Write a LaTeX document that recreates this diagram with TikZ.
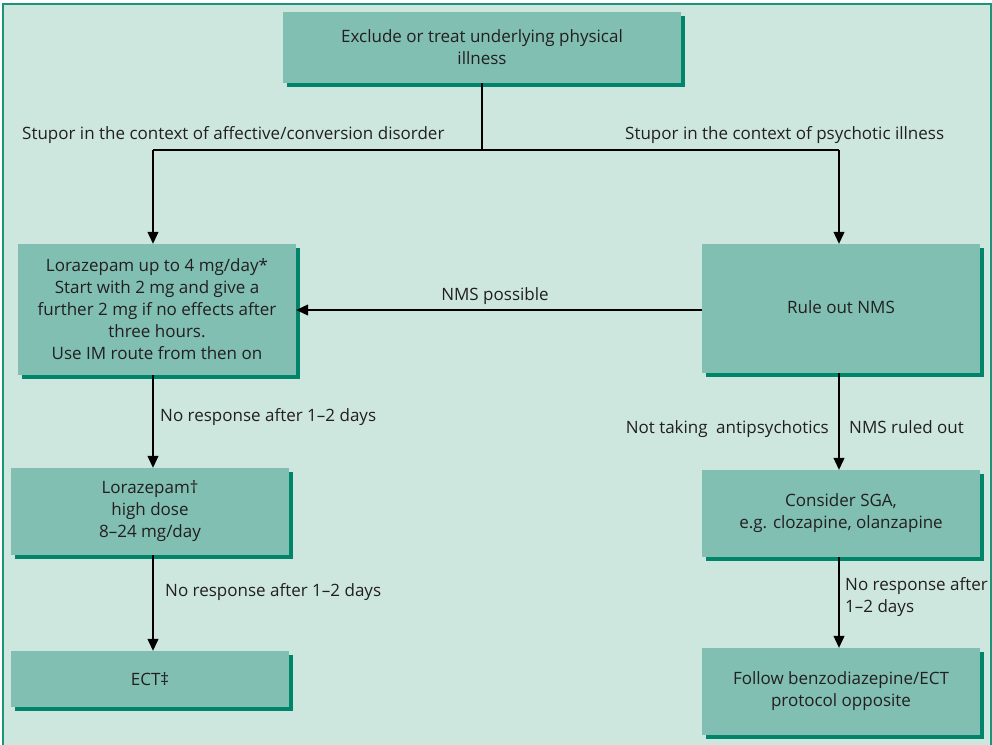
\documentclass[tikz,border=0pt]{standalone}
\usepackage{fontspec}
\setmainfont{Open Sans}
\usetikzlibrary{arrows.meta,shadows}
\definecolor{panel}{HTML}{CDE7DF}
\definecolor{frame}{HTML}{1B9479}
\definecolor{boxfill}{HTML}{80BFB2}
\definecolor{boxshade}{HTML}{00846A}
\definecolor{ink}{HTML}{231F20}
\begin{document}
\begin{tikzpicture}[x=1bp,y=-1bp,
  font=\fontsize{17bp}{22bp}\selectfont,
  stepbox/.style={fill=boxfill, draw=none, align=center, text=ink,
    inner sep=0pt, minimum width=278bp,
    drop shadow={shadow xshift=4bp, shadow yshift=-4bp, fill=boxshade, opacity=1}},
  link/.style={draw=black, line width=1.1bp},
  arr/.style={link, -{Triangle[length=12bp,width=11bp]}},
  lbl/.style={text=ink, inner sep=0pt}]
  % page and panel
  \path[use as bounding box] (0,0) rectangle (992,745);
  \fill[white] (0,0) rectangle (992,745);
  \fill[panel] (3,4) rectangle (991,745);
  \draw[frame, line width=1.6bp] (3,745) -- (3,4) -- (991,4) -- (991,745);

  % boxes
  \node[stepbox, minimum width=398bp, minimum height=71bp] (top) at (482,47.5)
    {Exclude or treat underlying physical\\illness};
  \node[stepbox, minimum height=131bp] (lor) at (157,309.5)
    {Lorazepam up to 4 mg/day*\\Start with 2 mg and give a\\further 2 mg if no effects after\\three hours.\\Use IM route from then on};
  \node[stepbox, minimum height=129bp] (nms) at (841,308.5) {\raisebox{3bp}{Rule out NMS}};
  \node[stepbox, minimum height=87bp] (high) at (150,511.5)
    {Lorazepam†\\high dose\\8–24 mg/day};
  \node[stepbox, minimum height=56bp] (ect) at (150,679) {ECT‡};
  \node[stepbox, minimum height=87bp] (sga) at (841,513.5)
    {Consider SGA,\\e.g. clozapine, olanzapine};
  \node[stepbox, minimum height=87bp] (follow) at (841,691.5)
    {Follow benzodiazepine/ECT\\protocol opposite};

  % column and branch coordinates
  \coordinate (lc) at (153,0);
  \coordinate (rc) at (839,0);
  \coordinate (split) at (482,150);
  \coordinate (cross) at (0,310);

  % branching from the top box
  \draw[link] (top.south) -- (split);
  \draw[link] (lc |- split) -- (rc |- split);
  \draw[arr] (lc |- split) -- (lor.north -| lc);
  \draw[arr] (rc |- split) -- (nms.north -| rc);
  \node[lbl, anchor=base west] (lbA) at (22,139)
    {Stupor in the context of affective/conversion disorder};
  \node[lbl, anchor=base west] (lbB) at (625,139)
    {Stupor in the context of psychotic illness};

  % NMS possible
  \draw[arr] (nms.west |- cross) -- (lor.east |- cross);
  \node[lbl, anchor=base] (lbC) at (495,300) {NMS possible};

  % left column
  \draw[arr] (lor.south -| lc) -- (high.north -| lc);
  \node[lbl, anchor=base west] (lbD) at (160,421) {No response after 1–2 days};
  \draw[arr] (high.south -| lc) -- (ect.north -| lc);
  \node[lbl, anchor=base west] (lbE) at (165,596) {No response after 1–2 days};

  % right column
  \draw[arr] (nms.south -| rc) -- (sga.north -| rc);
  \node[lbl, anchor=base east] (lbF) at (829,433) {Not taking\hspace{0.5em}antipsychotics};
  \node[lbl, anchor=base west] (lbG) at (849,433) {NMS ruled out};
  \draw[arr] (sga.south -| rc) -- (follow.north -| rc);
  \node[lbl, anchor=north west, align=left] (lbH) at (845,577)
    {No response after\\1–2 days};
\end{tikzpicture}
\end{document}
